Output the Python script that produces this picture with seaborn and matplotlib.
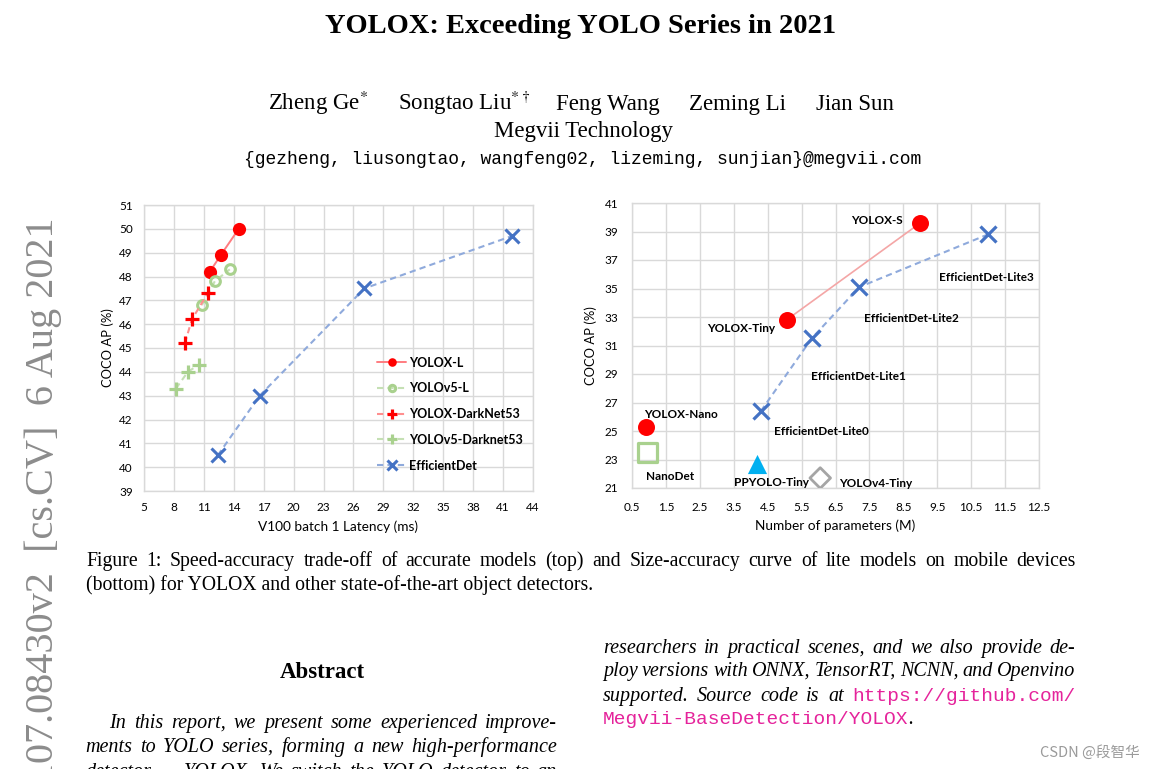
import numpy as np
import matplotlib
matplotlib.use("Agg")
import matplotlib.pyplot as plt
import seaborn as sns

##############################
# DATA #
##############################

# left panel: V100 batch 1 latency (ms) vs COCO AP (%)
yolox_l_latency = [11.6, 12.7, 14.5]
yolox_l_ap = [48.2, 48.9, 50.0]
yolov5_l_latency = [10.8, 12.1, 13.6]
yolov5_l_ap = [46.8, 47.8, 48.3]
yolox_d53_latency = [9.1, 9.8, 11.4]
yolox_d53_ap = [45.2, 46.2, 47.3]
yolov5_d53_latency = [8.2, 9.4, 10.5]
yolov5_d53_ap = [43.3, 44.0, 44.3]
effdet_latency = [12.4, 16.6, 27.1, 41.9]
effdet_ap = [40.5, 43.0, 47.5, 49.7]

# right panel: number of parameters (M) vs COCO AP (%)
yolox_names = ["YOLOX-Nano", "YOLOX-Tiny", "YOLOX-S"]
yolox_params = [0.91, 5.06, 9.0]
yolox_ap = [25.3, 32.8, 39.6]
lite_names = ["EfficientDet-Lite0", "EfficientDet-Lite1", "EfficientDet-Lite2", "EfficientDet-Lite3"]
lite_params = [4.3, 5.8, 7.2, 11.0]
lite_ap = [26.4, 31.5, 35.1, 38.8]
nanodet_params, nanodet_ap = [0.95], [23.5]
ppyolo_params, ppyolo_ap = [4.2], [22.7]
yolov4_params, yolov4_ap = [6.05], [21.7]

left_xticks = list(range(5, 45, 3))
left_yticks = list(range(39, 52))
right_xticks = [0.5, 1.5, 2.5, 3.5, 4.5, 5.5, 6.5, 7.5, 8.5, 9.5, 10.5, 11.5, 12.5]
right_yticks = list(range(21, 42, 2))

#########
# SETUP #
#########

sns.set_style("whitegrid", {"grid.color": "#D9D9D9", "axes.edgecolor": "#D9D9D9"})
plt.rcParams["font.family"] = ["Lato", "DejaVu Sans"]
plt.rcParams["mathtext.fontset"] = "stix"
plt.rcParams["text.color"] = "black"
plt.rcParams["axes.labelcolor"] = "black"

W, H = 1154, 769
fig = plt.figure(figsize=(W / 100, H / 100), dpi=100)
fig.patch.set_facecolor("white")
renderer = fig.canvas.get_renderer()

RED = "#FF0000"
GREEN = "#A9D18E"
BLUE = "#4472C4"
SERIF = "Liberation Serif"
MONO = "Liberation Mono"


def page_text(x, y, s, **kw):
	# x, y in pixels from the top-left corner of the page
	return fig.text(x / W, 1 - y / H, s, va="baseline", **kw)


def justify(words, x0, x1, y, **kw):
	# words: list of (word, extra style) spread evenly between x0 and x1
	texts = []
	for word, extra in words:
		style = dict(kw)
		style.update(extra)
		texts.append(page_text(x0, y, word, **style))
	widths = [t.get_window_extent(renderer).width for t in texts]
	gap = (x1 - x0 - sum(widths)) / max(len(texts) - 1, 1)
	x = x0
	for t, w in zip(texts, widths):
		t.set_x(x / W)
		x += w + gap


def plain(line):
	return [(w, {}) for w in line.split()]


def style_axes(ax, xpad, ypad):
	ax.grid(True, color="#D9D9D9", lw=1.0)
	for sp in ax.spines.values():
		sp.set_color("#D9D9D9")
		sp.set_linewidth(1.0)
	ax.tick_params(axis="x", length=0, pad=xpad, labelsize=8.5, labelcolor="black")
	ax.tick_params(axis="y", length=0, pad=ypad, labelsize=8.5, labelcolor="black")


##############
# LEFT PANEL #
##############

ax1 = fig.add_axes([144 / W, 1 - 491 / H, 389 / W, 286 / H])
dash = (0, (3, 2))

sns.lineplot(x=yolox_l_latency, y=yolox_l_ap, ax=ax1, color="#FF7C80", lw=1.4,
             marker="o", ms=9.5, mfc=RED, mec=RED, mew=0, label="YOLOX-L", errorbar=None)
sns.lineplot(x=yolov5_l_latency, y=yolov5_l_ap, ax=ax1, color="#C5E0B4", lw=1.5, ls=dash,
             marker="o", ms=7, mfc="none", mec=GREEN, mew=2.2, label="YOLOv5-L", errorbar=None)
sns.lineplot(x=yolox_d53_latency, y=yolox_d53_ap, ax=ax1, color="#FF8F8F", lw=1.5, ls=dash,
             marker="+", ms=10, mec=RED, mew=2.3, label="YOLOX-DarkNet53", errorbar=None)
sns.lineplot(x=yolov5_d53_latency, y=yolov5_d53_ap, ax=ax1, color="#C5E0B4", lw=1.5, ls=dash,
             marker="+", ms=10, mec=GREEN, mew=2.3, label="YOLOv5-Darknet53", errorbar=None)
sns.lineplot(x=effdet_latency, y=effdet_ap, ax=ax1, color="#8FAADC", lw=1.5, ls=dash,
             marker="x", ms=10, mec=BLUE, mew=2.2, label="EfficientDet", errorbar=None)

ax1.set_xlim(5, 44)
ax1.set_ylim(39, 51)
ax1.set_xticks(left_xticks)
ax1.set_yticks(left_yticks)
style_axes(ax1, 8, 8)
ax1.set_xlabel("V100 batch 1 Latency (ms)", fontsize=9.8, labelpad=5)
ax1.set_ylabel("COCO AP (%)", fontsize=9.4, labelpad=4)
leg = ax1.legend(loc="upper left", bbox_to_anchor=(0.60, 0.470), frameon=False,
                 borderaxespad=0, borderpad=0, handlelength=2.3, handletextpad=0.2,
                 labelspacing=1.1, markerscale=0.65, prop={"weight": "bold", "size": 9})

###############
# RIGHT PANEL #
###############

ax2 = fig.add_axes([632 / W, 1 - 488 / H, 407 / W, 285 / H])

sns.lineplot(x=yolox_params[1:], y=yolox_ap[1:], ax=ax2, color="#F4A6A6", lw=1.2, errorbar=None)
sns.scatterplot(x=yolox_params, y=yolox_ap, ax=ax2, marker="o", s=150, color=RED, linewidth=0, zorder=3)
sns.lineplot(x=lite_params, y=lite_ap, ax=ax2, color="#8FAADC", lw=1.5, ls=dash,
             marker="x", ms=12, mec=BLUE, mew=2.3, errorbar=None)
sns.scatterplot(x=nanodet_params, y=nanodet_ap, ax=ax2, marker="s", s=190, facecolor="none",
                edgecolor=GREEN, linewidth=2.3, zorder=3)
sns.scatterplot(x=ppyolo_params, y=ppyolo_ap, ax=ax2, marker="^", s=190, color="#00B0F0",
                linewidth=0, zorder=3)
sns.scatterplot(x=yolov4_params, y=yolov4_ap, ax=ax2, marker="D", s=110, facecolor="none",
                edgecolor="#A5A5A5", linewidth=2.0, zorder=3)

# label offsets in pixels from each point
point_labels = [
	(yolox_names[0], yolox_params[0], yolox_ap[0], 35, 12),
	(yolox_names[1], yolox_params[1], yolox_ap[1], -46, -9),
	(yolox_names[2], yolox_params[2], yolox_ap[2], -43, 2),
	("NanoDet", nanodet_params[0], nanodet_ap[0], 23, -24),
	("PPYOLO-Tiny", ppyolo_params[0], ppyolo_ap[0], 14, -19),
	("YOLOv4-Tiny", yolov4_params[0], yolov4_ap[0], 55, -5),
	(lite_names[0], lite_params[0], lite_ap[0], 60, -20),
	(lite_names[1], lite_params[1], lite_ap[1], 47, -38),
	(lite_names[2], lite_params[2], lite_ap[2], 52, -31),
	(lite_names[3], lite_params[3], lite_ap[3], -2, -43),
]
for name, px, py, dx, dy in point_labels:
	ax2.annotate(name, (px, py), xytext=(dx, dy), textcoords="offset pixels",
	             ha="center", va="center", fontsize=8.5, fontweight="bold", annotation_clip=False)

ax2.set_xlim(0.5, 12.5)
ax2.set_ylim(21, 41)
ax2.set_xticks(right_xticks)
ax2.set_xticklabels([f"{v:g}" for v in right_xticks])
ax2.set_yticks(right_yticks)
style_axes(ax2, 10, 10)
ax2.set_xlabel("Number of parameters (M)", fontsize=9.8, labelpad=5)
ax2.set_ylabel("COCO AP (%)", fontsize=9.4, labelpad=5)

#############
# PAGE TEXT #
#############

page_text(581, 33, "YOLOX: Exceeding YOLO Series in 2021", ha="center",
          family=SERIF, fontsize=20.5, fontweight="bold")

authors = [("Zheng Ge$^{*}$", 268), ("Songtao Liu$^{*\\dagger}$", 398), ("Feng Wang", 556),
           ("Zeming Li", 689), ("Jian Sun", 816)]
for name, ax_x in authors:
	page_text(ax_x, 110, name, family=SERIF, fontsize=16.5)
page_text(583, 137, "Megvii Technology", ha="center", family=SERIF, fontsize=16.5)
page_text(583, 164, "{gezheng, liusongtao, wangfeng02, lizeming, sunjian}@megvii.com",
          ha="center", family=MONO, fontsize=13)

justify(plain("Figure 1: Speed-accuracy trade-off of accurate models (top) and Size-accuracy "
              "curve of lite models on mobile devices"), 86, 1076, 566, family=SERIF, fontsize=14.2)
page_text(86, 590, "(bottom) for YOLOX and other state-of-the-art object detectors.",
          family=SERIF, fontsize=14.2)

page_text(322, 678, "Abstract", ha="center", family=SERIF, fontsize=16.5, fontweight="bold")
body = dict(family=SERIF, fontsize=14.5, style="italic")
justify(plain("In this report, we present some experienced improve-"), 109, 557, 728, **body)
justify(plain("ments to YOLO series, forming a new high-performance"), 85, 557, 752, **body)
justify(plain("detector \u2014 YOLOX. We switch the YOLO detector to an"), 85, 557, 777, **body)

justify(plain("researchers in practical scenes, and we also provide de-"), 603, 1075, 653, **body)
justify(plain("ploy versions with ONNX, TensorRT, NCNN, and Openvino"), 603, 1075, 676, **body)
url_style = {"family": MONO, "style": "normal", "color": "#E5239B", "fontsize": 14}
justify(plain("supported.  Source code is at") + [("https://github.com/", url_style)],
        603, 1075, 701, **body)
url = page_text(603, 724, "Megvii-BaseDetection/YOLOX", family=MONO, fontsize=14, color="#E5239B")
url_w = url.get_window_extent(renderer).width
page_text(603 + url_w, 724, ".", **body)

# arXiv stamp on the left margin
page_text(53, 218, "arXiv:2107.08430v2  [cs.CV]  6 Aug 2021", rotation=90, rotation_mode="anchor",
          ha="right", family=SERIF, fontsize=29, color="#8C8C8C")

# watermark
fig.text(1140 / W, 1 - 757 / H, "CSDN @段智华", ha="right", va="baseline",
         family=["Noto Sans CJK SC", "DejaVu Sans"], fontsize=10.5, color="#9A9A9A")

plt.savefig("out.png", dpi=100, facecolor="white")
